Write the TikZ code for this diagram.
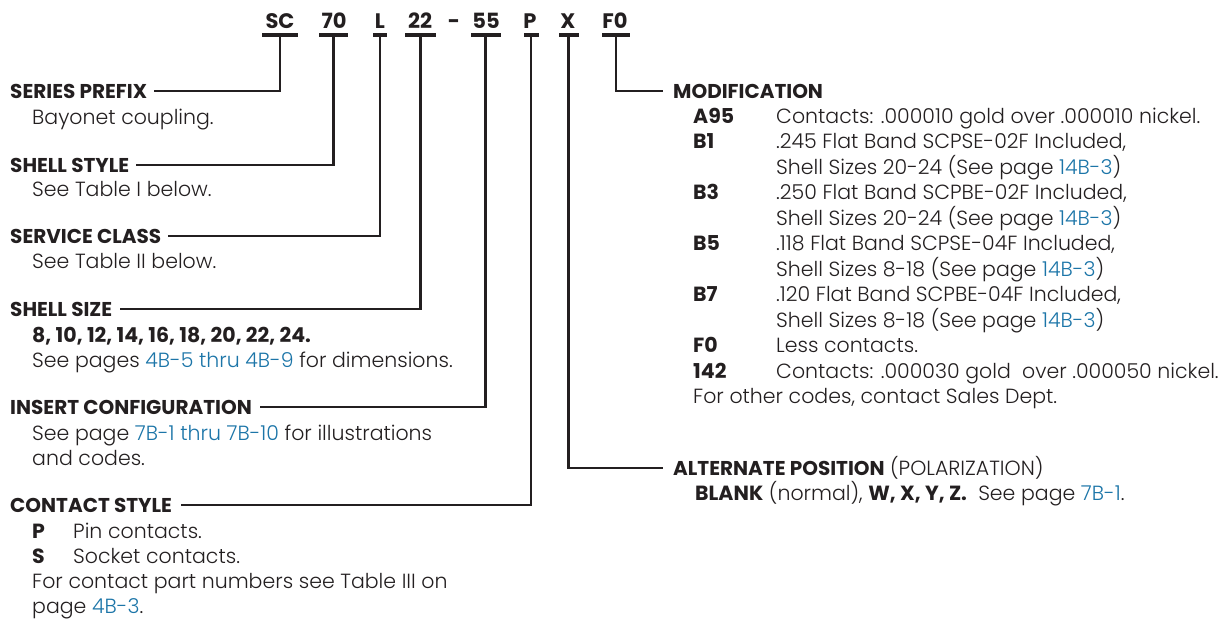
\documentclass[tikz,border=0pt]{standalone}
\usepackage{fontspec}
\setmainfont{Poppins}[UprightFont=* Light, BoldFont=* Bold]
\definecolor{ink}{RGB}{35,31,32}
\definecolor{linkblue}{RGB}{28,117,168}
\newcommand{\lk}[1]{\textcolor{linkblue}{#1}}
\begin{document}
\begin{tikzpicture}[x=1pt,y=-1pt,
  txt/.style={anchor=base west, inner sep=0pt, text=ink, font=\fontsize{20.5}{24}\selectfont},
  head/.style={txt, font=\fontsize{20}{24}\selectfont\bfseries},
  code/.style={anchor=base, inner sep=0pt, text=ink, font=\fontsize{21}{24}\selectfont\bfseries},
  bar/.style={fill=ink, inner sep=0pt, minimum height=4pt},
  conn/.style={draw=ink, line width=2.2pt}]
\useasboundingbox (0,0) rectangle (1229,621);
% code row
\node[code] (csc) at (280,28) {SC};
\node[code] (c70) at (334,28) {70};
\node[code] (cl) at (380,28) {L};
\node[code] (c22) at (420,28) {22};
\node[code] (cdash) at (454,28) {-};
\node[code] (c55) at (486,28) {55};
\node[code] (cp) at (530,28) {P};
\node[code] (cx) at (568,28) {X};
\node[code] (cf0) at (615,28) {F0};
\node[bar, minimum width=36pt] (bsc) at (280,35) {};
\node[bar, minimum width=29pt] (b70) at (333.5,35) {};
\node[bar, minimum width=14pt] (bl) at (380,35) {};
\node[bar, minimum width=31pt] (b22) at (420.5,35) {};
\node[bar, minimum width=30pt] (b55) at (485.5,35) {};
\node[bar, minimum width=15pt] (bp) at (531,35) {};
\node[bar, minimum width=20pt] (bx) at (568.5,35) {};
\node[bar, minimum width=28pt] (bf0) at (616,35) {};
% left headings
\node[head] (hsp) at (10,98) {SERIES PREFIX};
\node[txt] (tsp) at (32,124) {Bayonet coupling.};
\node[head] (hss) at (10,172) {SHELL STYLE};
\node[txt] (tss) at (32,196) {See Table I below.};
\node[head] (hsc) at (10,243) {SERVICE CLASS};
\node[txt] (tsc) at (32,268) {See Table II below.};
\node[head] (hsz) at (10,316) {SHELL SIZE};
\node[txt] (tsz1) at (32,342) {\bfseries 8, 10, 12, 14, 16, 18, 20, 22, 24.};
\node[txt] (tsz2) at (32,367) {See pages \lk{4B-5 thru 4B-9} for dimensions.};
\node[head] (hic) at (10,414) {INSERT CONFIGURATION};
\node[txt] (tic1) at (32,440) {See page \lk{7B-1 thru 7B-10} for illustrations};
\node[txt] (tic2) at (32,465) {and codes.};
\node[head] (hcs) at (10,512) {CONTACT STYLE};
\node[txt] (tcp) at (32,538) {\bfseries P};
\node[txt] (tcpd) at (73,538) {Pin contacts.};
\node[txt] (tcs) at (32,563) {\bfseries S};
\node[txt] (tcsd) at (73,563) {Socket contacts.};
\node[txt] (tc3) at (32,588) {For contact part numbers see Table III on};
\node[txt] (tc4) at (32,613) {page \lk{4B-3}.};
% right: modification
\node[head] (hmod) at (673,98) {MODIFICATION};
\node[txt] (m1c) at (693,123) {\bfseries A95};
\node[txt] (m1) at (776,123) {Contacts: .000010 gold over .000010 nickel.};
\node[txt] (m2c) at (693,148.5) {\bfseries B1};
\node[txt] (m2) at (776,148.5) {.245 Flat Band SCPSE-02F Included,};
\node[txt] (m2b) at (776,174) {Shell Sizes 20-24 (See page \lk{14B-3})};
\node[txt] (m3c) at (693,199.5) {\bfseries B3};
\node[txt] (m3) at (776,199.5) {.250 Flat Band SCPBE-02F Included,};
\node[txt] (m3b) at (776,225) {Shell Sizes 20-24 (See page \lk{14B-3})};
\node[txt] (m4c) at (693,250.5) {\bfseries B5};
\node[txt] (m4) at (776,250.5) {.118 Flat Band SCPSE-04F Included,};
\node[txt] (m4b) at (776,276) {Shell Sizes 8-18 (See page \lk{14B-3})};
\node[txt] (m5c) at (693,301.5) {\bfseries B7};
\node[txt] (m5) at (776,301.5) {.120 Flat Band SCPBE-04F Included,};
\node[txt] (m5b) at (776,327) {Shell Sizes 8-18 (See page \lk{14B-3})};
\node[txt] (m6c) at (693,352.5) {\bfseries F0};
\node[txt] (m6) at (776,352.5) {Less contacts.};
\node[txt] (m7c) at (693,378) {\bfseries 142};
\node[txt] (m7) at (776,378) {Contacts: .000030 gold\ \ over .000050 nickel.};
\node[txt] (m8) at (693,403.5) {For other codes, contact Sales Dept.};
% right: alternate position
\node[head] (halt) at (673,475) {ALTERNATE POSITION};
\node[txt] (halt2) at ([xshift=5pt]halt.base east) {(POLARIZATION)};
\node[txt] (talt) at (695,500) {\textbf{BLANK} (normal), \textbf{W, X, Y, Z.}\ \ See page \lk{7B-1}.};
% connectors
\draw[conn] (bsc.south) |- ([xshift=7pt]hsp.east);
\draw[conn] (b70.south) |- ([xshift=7pt]hss.east);
\draw[conn] (bl.south) |- ([xshift=7pt]hsc.east);
\draw[conn] (b22.south) |- ([xshift=8pt]hsz.east);
\draw[conn] (b55.south) |- ([xshift=8pt]hic.east);
\draw[conn] (bp.south) |- ([xshift=9pt]hcs.east);
\draw[conn] (bx.south) |- ([xshift=-10pt]halt.west);
\draw[conn] (bf0.south) |- ([xshift=-10pt]hmod.west);
\end{tikzpicture}
\end{document}
